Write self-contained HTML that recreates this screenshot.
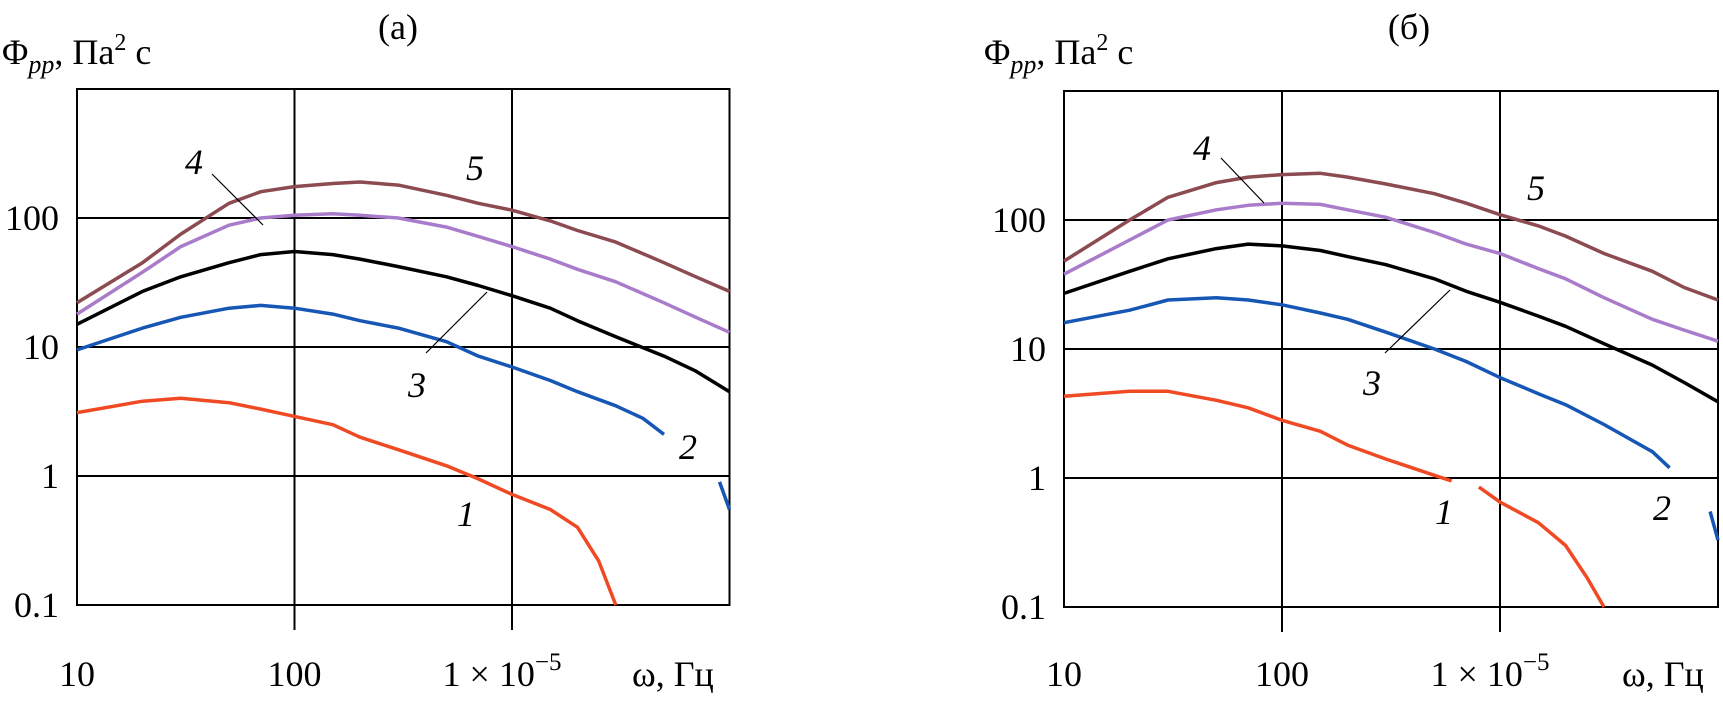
<!DOCTYPE html>
<html><head><meta charset="utf-8"><style>
html,body{margin:0;padding:0;background:#fff;}
svg{display:block;font-family:"Liberation Serif",serif;}
</style></head><body>
<svg id="chart" width="1723" height="701" viewBox="0 0 1723 701" xmlns="http://www.w3.org/2000/svg"></svg>
<script>
const xTickVals = [10, 100, 1000];
const xTickLabels = ["10", "100", "1 × 10"];
const yTickVals = [0.1, 1, 10, 100];
const yTickLabels = ["0.1", "1", "10", "100"];
const seriesColors = ["#f04a24", "#1656b4", "#000000", "#a97ccb", "#8c4b50"];

// panel (a)
const aX = [10,20,30,50,70,100,150,200,300,500,700,1000,1500,2000,3000,5000,7000,10000];
const a5 = [22,45,75,130,160,175,185,190,180,150,130,115,95,80,65,45,35,27];
const a4 = [18,38,60,88,100,105,108,105,100,85,72,60,48,40,32,22,17,13];
const a3 = [15,27,35,45,52,55,52,48,42,35,30,25,20,16,12,8.5,6.5,4.5];
const a2X = [10,20,30,50,70,100,150,200,300,500,700,1000,1500,2000,3000,4000,5000];
const a2 = [9.5,14,17,20,21,20,18,16,14,11,8.5,7,5.5,4.5,3.5,2.8,2.1];
const a2bX = [9000,10000];
const a2b = [0.9,0.55];
const a1X = [10,20,30,50,70,100,150,200,300,500,700,1000,1500,2000,2500,3000];
const a1 = [3.1,3.8,4,3.7,3.3,2.9,2.5,2.0,1.6,1.2,0.95,0.72,0.55,0.4,0.22,0.1];

// panel (б)
const bX = [10,20,30,50,70,100,150,200,300,500,700,1000,1500,2000,3000,5000,7000,10000];
const b5 = [48,100,150,195,215,225,230,215,190,160,135,110,90,75,55,40,30,24];
const b4 = [38,70,100,120,130,135,132,120,105,80,65,55,42,35,25,17,14,11.5];
const b3 = [27,40,50,60,65,63,58,52,45,35,28,23,18,15,11,7.5,5.5,3.9];
const b2X = [10,20,30,50,70,100,150,200,300,500,700,1000,1500,2000,3000,5000,6000];
const b2 = [16,20,24,25,24,22,19,17,13.5,10,8,6,4.5,3.7,2.6,1.6,1.2];
const b2bX = [9200,10000];
const b2b = [0.55,0.33];
const b1X = [10,20,30,50,70,100,150,200,300,500,600];
const b1 = [4.3,4.7,4.7,4,3.5,2.8,2.3,1.8,1.4,1.05,0.95];
const b1bX = [800,1000,1500,2000,2500,3000];
const b1b = [0.85,0.65,0.45,0.3,0.17,0.1];

const NS = "http://www.w3.org/2000/svg";
const svg = document.getElementById("chart");
function mk(tag, attrs, parent){const e=document.createElementNS(NS,tag);for(const k in attrs)e.setAttribute(k,attrs[k]);(parent||svg).appendChild(e);return e;}

function panel(id, P, series, title, labels){
  const g = mk("g",{});
  
  
  const xs = v => P.x0 + (Math.log10(v)-1)*P.dx;
  const ys = v => P.y0 - (Math.log10(v)+1)*P.dy;
  yTickVals.forEach((v,i)=>{
    const l = mk("line",{x1:P.x0,x2:P.x0+3*P.dx,y1:ys(v),y2:ys(v),stroke:"#000","stroke-width":2},g);
    
    
    const t = mk("text",{x:P.x0-18,y:ys(v)+12,"text-anchor":"end","font-size":36},g);
    t.textContent = yTickLabels[i];
    
    
  });
  xTickVals.forEach((v,i)=>{
    const l = mk("line",{x1:xs(v),x2:xs(v),y1:P.y0-4*P.dy,y2:P.y0+(i>0?25:0),stroke:"#000","stroke-width":2},g);
    
    
    const t = mk("text",{x:xs(v)+(i==2?-10:0),y:686,"text-anchor":"middle","font-size":36},g);
    t.textContent = xTickLabels[i];
    if(i==2){const s=mk("tspan",{dy:-16,"font-size":25},t);s.textContent="−5";}
    
    
  });
  const fr = mk("rect",{x:P.x0,y:P.y0-4*P.dy,width:3*P.dx,height:4*P.dy,fill:"none",stroke:"#000","stroke-width":2},g);
  
  
  series.forEach(s=>{
    const d = s.x.map((v,i)=>(i?"L":"M")+xs(v).toFixed(1)+","+ys(s.y[i]).toFixed(1)).join(" ");
    const p = mk("path",{d:d,fill:"none",stroke:seriesColors[s.c],"stroke-width":3.5,"stroke-linejoin":"round"},g);
    
    
  });
  const tt = mk("text",{x:P.tx,y:39,"text-anchor":"middle","font-size":36},g);
  tt.textContent = title;
  
  
  const yt = mk("text",{x:P.yx,y:64,"font-size":36},g);
  yt.innerHTML = 'Φ<tspan font-style="italic" font-size="26" dy="9">pp</tspan><tspan dy="-9">, Па</tspan><tspan font-size="24" dy="-14">2</tspan><tspan dy="14"> с</tspan>';
  
  
  const xt = mk("text",{x:P.xt,y:686,"font-size":36},g);
  xt.textContent = "ω, Гц";
  
  
  labels.forEach(L=>{
    const t = mk("text",{x:L[1],y:L[2]+13,"text-anchor":"middle","font-size":36,"font-style":"italic"},g);
    t.textContent = L[0];
    
    
    if(L.length>3){
      const l = mk("line",{x1:L[3],y1:L[4],x2:L[5],y2:L[6],stroke:"#000","stroke-width":1.2},g);
      
      
    }
  });
}

panel("a",{x0:77,dx:217.5,y0:605,dy:129,tx:398,yx:2,xt:632},
 [{x:a1X,y:a1,c:0},{x:a2X,y:a2,c:1},{x:a2bX,y:a2b,c:1},{x:aX,y:a3,c:2},{x:aX,y:a4,c:3},{x:aX,y:a5,c:4}],
 "(a)",
 [["4",194,161,212,174,263,225],["5",475,167],["3",417,384,487,292,426,353],["2",688,446],["1",466,513]]);

panel("b",{x0:1064,dx:218,y0:607,dy:129,tx:1409,yx:984,xt:1622},
 [{x:b1X,y:b1,c:0},{x:b1bX,y:b1b,c:0},{x:b2X,y:b2,c:1},{x:b2bX,y:b2b,c:1},{x:bX,y:b3,c:2},{x:bX,y:b4,c:3},{x:bX,y:b5,c:4}],
 "(б)",
 [["4",1202,147,1221,158,1264,203],["5",1536,187],["3",1372,382,1450,290,1385,353],["1",1444,511],["2",1662,507]]);
</script>
</body></html>
